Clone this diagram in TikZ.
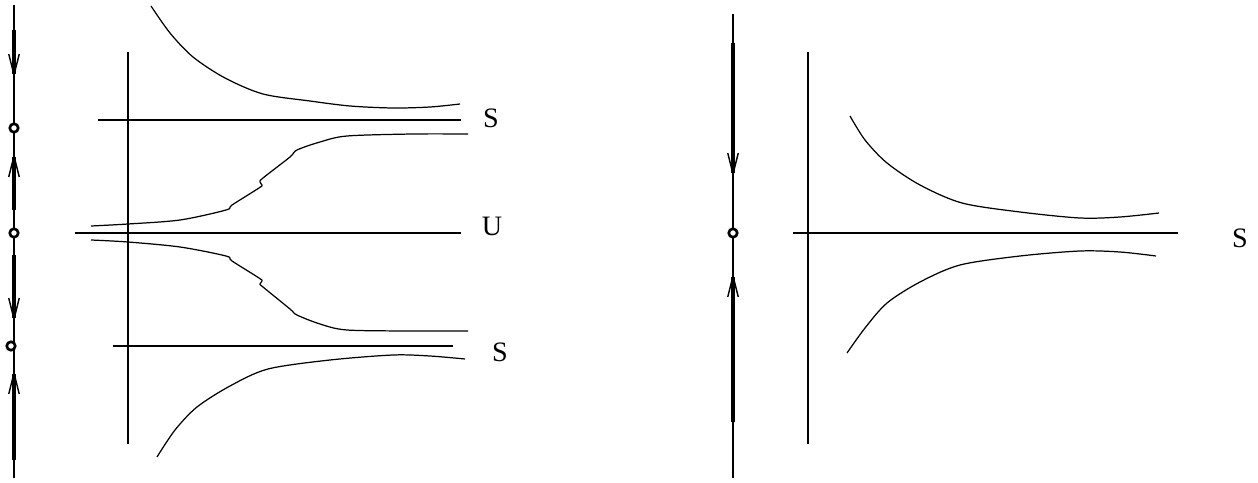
\documentclass[tikz,border=0pt]{standalone}
\usepackage{fontspec}
\setmainfont{Liberation Serif}
\usetikzlibrary{arrows.meta}

\begin{document}
\begin{tikzpicture}[
    x=0.02cm, y=-0.02cm,
    axis/.style={line width=0.7pt},
    orbit/.style={line width=0.7pt, smooth, tension=0.5},
    flow/.style={line width=2.2pt, -{Straight Barb[length=0.42cm, width=0.21cm, line width=0.8pt]}},
    fixpt/.style={circle, draw, line width=1.5pt, fill=white, inner sep=0pt, minimum size=0.17cm},
    lbl/.style={font=\fontsize{16}{19}\selectfont, inner sep=0pt}
]
\useasboundingbox (0,0) rectangle (1258,483);

% ── Reta de fase da esquerda ───────────────────────────────
\coordinate (lTop) at (14,5);
\coordinate (lBot) at (14,478);
\draw[axis] (lTop) -- (lBot);

\coordinate (la1) at (14,30);  \coordinate (la2) at (14,78);
\coordinate (lb1) at (14,210); \coordinate (lb2) at (14,153);
\coordinate (lc1) at (14,255); \coordinate (lc2) at (14,322);
\coordinate (ld1) at (14,460); \coordinate (ld2) at (14,370);
\draw[flow] (la1) -- (la2);
\draw[flow] (lb1) -- (lb2);
\draw[flow] (lc1) -- (lc2);
\draw[flow] (ld1) -- (ld2);

\node[fixpt] (lp1) at (14,128) {};
\node[fixpt] (lp2) at (14,233) {};
\node[fixpt] (lp3) at (11,346) {};

% ── Plano da esquerda (S, U, S) ────────────────────────────
\coordinate (vTop) at (128,52);
\coordinate (vBot) at (128,444);
\draw[axis] (vTop) -- (vBot);

\coordinate (s1a) at (98,120);  \coordinate (s1b) at (461,120);
\coordinate (u1a) at (75,233);  \coordinate (u1b) at (461,233);
\coordinate (s2a) at (113,346); \coordinate (s2b) at (453,346);
\draw[axis] (s1a) -- (s1b);
\draw[axis] (u1a) -- (u1b);
\draw[axis] (s2a) -- (s2b);

\node[lbl] (labS1) at (491,118) {S};
\node[lbl] (labU)  at (492,226) {U};
\node[lbl] (labS2) at (500,352) {S};

\draw[orbit] plot coordinates {(151,6) (170,33) (193,57) (225,78) (263,94)
    (310,101) (350,106) (393,108) (430,107) (460,104)};
\draw[orbit] plot coordinates {(91,226) (128,224) (180,220) (226,210) (232,205)
    (259,188) (262,185) (260,182) (263,178) (290,157) (297,150) (320,142)
    (347,136) (413,134) (468,134)};
\draw[orbit] plot coordinates {(91,240) (128,242) (180,247) (226,256) (232,261)
    (259,278) (262,281) (260,284) (263,287) (290,309) (297,315) (320,324)
    (347,330) (413,331) (468,331)};
\draw[orbit] plot coordinates {(157,457) (175,430) (197,407) (230,386) (268,369)
    (330,360) (393,355) (430,356) (465,359)};

% ── Reta de fase da direita ────────────────────────────────
\coordinate (rTop) at (733,14);
\coordinate (rBot) at (733,478);
\draw[axis] (rTop) -- (rBot);

\coordinate (ra1) at (733,43);  \coordinate (ra2) at (733,177);
\coordinate (rb1) at (733,422); \coordinate (rb2) at (733,273);
\draw[flow] (ra1) -- (ra2);
\draw[flow] (rb1) -- (rb2);

\node[fixpt] (rp1) at (733,233) {};

% ── Plano da direita (S) ───────────────────────────────────
\coordinate (wTop) at (808,52);
\coordinate (wBot) at (808,444);
\draw[axis] (wTop) -- (wBot);

\coordinate (s3a) at (793,233); \coordinate (s3b) at (1178,233);
\draw[axis] (s3a) -- (s3b);

\node[lbl] (labS3) at (1240,238) {S};

\draw[orbit] plot coordinates {(850,116) (865,140) (887,163) (920,185) (962,203)
    (1020,212) (1080,218) (1120,217) (1159,213)};
\draw[orbit] plot coordinates {(847,353) (865,328) (887,303) (920,282) (960,265)
    (1020,256) (1080,251) (1120,252) (1156,256)};

\end{tikzpicture}
\end{document}
